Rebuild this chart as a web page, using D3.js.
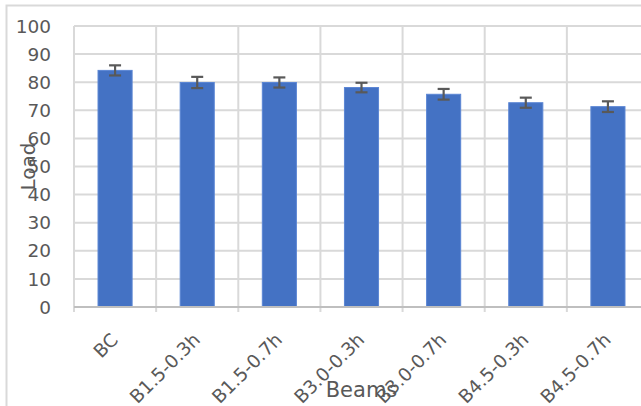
<!DOCTYPE html>
<html><head><meta charset="utf-8">
<script src="https://cdn.jsdelivr.net/npm/d3@7"></script>
<style>body{margin:0;background:#fff;overflow:hidden}svg{display:block}text{font-family:"DejaVu Sans",sans-serif;fill:#595959}</style>
</head><body><svg id="c" width="641" height="406"></svg>
<script>
const categories = ["BC","B1.5-0.3h","B1.5-0.7h","B3.0-0.3h","B3.0-0.7h","B4.5-0.3h","B4.5-0.7h"];
const loads = [84.2, 79.9, 79.9, 78.1, 75.7, 72.7, 71.3];
const errors = [1.8, 2.0, 1.8, 1.7, 1.9, 1.8, 1.9];
const yTicks = [0,10,20,30,40,50,60,70,80,90,100];
const xTitle = "Beams", yTitle = "Load";

const svg = d3.select("#c");
const m = {left:74, top:26, right:649, bottom:307};
const x = d3.scaleBand().domain(categories).range([m.left, m.right]).paddingInner(0.585).paddingOuter(0.2925);
const xb = d3.scaleBand().domain(categories).range([m.left, m.right]);
const y = d3.scaleLinear().domain([0,100]).range([m.bottom, m.top]);

// outer border
svg.append("rect").attr("x",6.5).attr("y",5.5).attr("width",800).attr("height",500)
  .attr("fill","none").attr("stroke","#d9d9d9").attr("stroke-width",2);

// horizontal gridlines
svg.append("g").selectAll("line").data(yTicks.slice(1)).join("line")
  .attr("x1",m.left).attr("x2",m.right).attr("y1",d=>y(d)).attr("y2",d=>y(d))
  .attr("stroke","#d9d9d9").attr("stroke-width",2);
// vertical gridlines
svg.append("g").selectAll("line").data(categories).join("line")
  .attr("x1",d=>xb(d)).attr("x2",d=>xb(d)).attr("y1",m.top).attr("y2",m.bottom+5)
  .attr("stroke","#d9d9d9").attr("stroke-width",2);

// bars
svg.append("g").selectAll("rect").data(categories).join("rect")
  .attr("x",d=>x(d)).attr("width",x.bandwidth())
  .attr("y",(d,i)=>y(loads[i])).attr("height",(d,i)=>y(0)-y(loads[i]))
  .attr("fill","#4472C4").attr("stroke","#5B86D4").attr("stroke-width",1);

// x axis line
svg.append("line").attr("x1",m.left).attr("x2",m.right).attr("y1",y(0)).attr("y2",y(0))
  .attr("stroke","#bfbfbf").attr("stroke-width",2);

// error bars
const eg = svg.append("g").attr("stroke","#595959").attr("stroke-width",2.2);
categories.forEach((c,i)=>{
  const cx = x(c)+x.bandwidth()/2;
  eg.append("line").attr("x1",cx).attr("x2",cx).attr("y1",y(loads[i]+errors[i])).attr("y2",y(loads[i]-errors[i]));
  [loads[i]+errors[i], loads[i]-errors[i]].forEach(v=>{
    eg.append("line").attr("x1",cx-6).attr("x2",cx+6).attr("y1",y(v)).attr("y2",y(v));
  });
});

// y tick labels
svg.append("g").selectAll("text").data(yTicks).join("text")
  .attr("x",51).attr("y",d=>y(d)).attr("dy","0.36em").attr("text-anchor","end")
  .attr("font-size",18.5).text(d=>d);

// x tick labels
svg.append("g").selectAll("text").data(categories).join("text")
  .attr("transform",d=>`translate(${x(d)+x.bandwidth()/2+4},341) rotate(-45)`)
  .attr("text-anchor","end").attr("font-size",18.5).text(d=>d);

// axis titles
svg.append("text").attr("x",(m.left+m.right)/2).attr("y",397).attr("text-anchor","middle")
  .attr("font-size",21).text(xTitle);
svg.append("text").attr("transform",`translate(35,${(m.top+m.bottom)/2}) rotate(-90)`)
  .attr("text-anchor","middle").attr("font-size",20).text(yTitle);
</script></body></html>
